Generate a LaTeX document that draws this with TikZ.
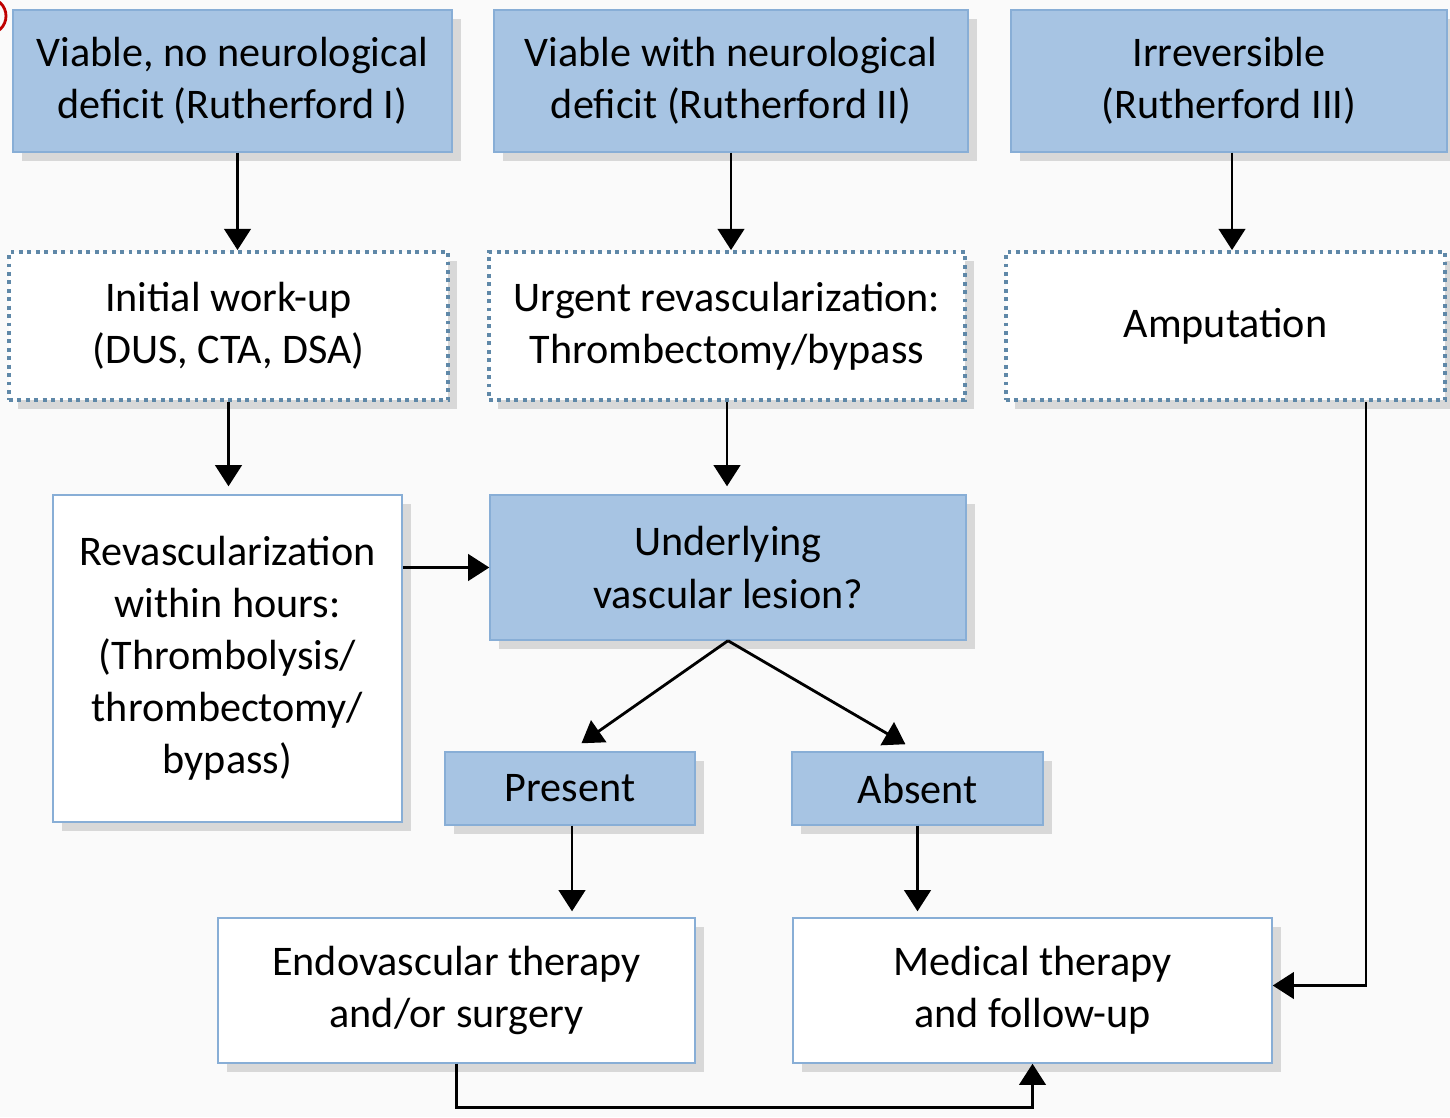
\documentclass[tikz,border=0pt]{standalone}
\usepackage{fontspec}
\setmainfont{Carlito}
\usetikzlibrary{arrows.meta,shadows}
\definecolor{boxblue}{HTML}{A7C4E3}
\definecolor{rimblue}{HTML}{88AED6}
\definecolor{dotblue}{HTML}{5F88A8}
\tikzset{
  shade/.style={drop shadow={shadow xshift=2.5pt,shadow yshift=-2.5pt,opacity=0.35,fill=gray!80}},
  bluebox/.style={rectangle,fill=boxblue,draw=rimblue,thin,shade,align=center,inner sep=2pt,
    font=\fontsize{12}{14.8}\selectfont},
  dotbox/.style={rectangle,fill=white,draw=dotblue,dash pattern=on 1.1pt off 1.3pt,line width=1.1pt,shade,
    align=center,inner sep=2pt,font=\fontsize{12}{14.8}\selectfont},
  whitebox/.style={rectangle,fill=white,draw=rimblue,thin,shade,align=center,inner sep=2pt,
    font=\fontsize{12}{14.8}\selectfont},
  arr/.style={-{Triangle[width=7.5pt,length=6pt]},black,line width=0.8pt}
}
\begin{document}
\begin{tikzpicture}
\useasboundingbox (0,0) rectangle (14.5,-11.17);
\fill[gray!4] (0,0) rectangle (14.5,-11.17);
\draw[red!75!black,thick] (-0.12,-0.16) circle (0.18);
\node[bluebox,minimum width=4.39cm,minimum height=1.42cm] (R1) at (2.325,-0.81) {Viable, no neurological\\deficit (Rutherford I)};
\node[bluebox,minimum width=4.74cm,minimum height=1.42cm] (R2) at (7.31,-0.81) {Viable with neurological\\deficit (Rutherford II)};
\node[bluebox,minimum width=4.36cm,minimum height=1.42cm] (R3) at (12.29,-0.81) {Irreversible\\(Rutherford III)};
\node[dotbox,minimum width=4.39cm,minimum height=1.48cm] (D1) at (2.285,-3.26) {Initial work-up\\(DUS, CTA, DSA)};
\node[dotbox,minimum width=4.76cm,minimum height=1.48cm] (D2) at (7.27,-3.26) {Urgent revascularization:\\Thrombectomy/bypass};
\node[dotbox,minimum width=4.39cm,minimum height=1.48cm] (D3) at (12.255,-3.26) {Amputation};
\node[whitebox,minimum width=3.49cm,minimum height=3.27cm] (Rev) at (2.275,-6.585) {Revascularization\\within hours:\\(Thrombolysis/\\thrombectomy/\\bypass)};
\node[bluebox,minimum width=4.76cm,minimum height=1.45cm] (Und) at (7.28,-5.675) {Underlying\\vascular lesion?};
\node[bluebox,minimum width=2.50cm,minimum height=0.73cm] (Pres) at (5.70,-7.885) {Present};
\node[bluebox,minimum width=2.51cm,minimum height=0.73cm] (Abs) at (9.175,-7.885) {Absent};
\node[whitebox,minimum width=4.77cm,minimum height=1.45cm] (Endo) at (4.565,-9.905) {Endovascular therapy\\and/or surgery};
\node[whitebox,minimum width=4.79cm,minimum height=1.45cm] (Med) at (10.325,-9.905) {Medical therapy\\and follow-up};
\draw[arr] ([xshift=0.05cm]R1.south) -- ([xshift=0.05cm]R1.south |- D1.north);
\draw[arr] (R2.south) -- (R2.south |- D2.north);
\draw[arr] ([xshift=0.03cm]R3.south) -- ([xshift=0.03cm]R3.south |- D3.north);
\draw[arr,shorten >=0.08cm] (D1.south) -- (D1.south |- Rev.north);
\draw[arr,shorten >=0.08cm] (D2.south) -- (D2.south |- Und.north);
\draw[arr] (Rev.east |- Und.west) -- (Und.west);
\draw[arr,shorten >=0.14cm] (Und.south) -- (Pres.north);
\draw[arr,shorten >=0.14cm] (Und.south) -- (Abs.north);
\draw[arr,shorten >=0.06cm] ([xshift=0.02cm]Pres.south) -- ([xshift=0.02cm]Pres.south |- Endo.north);
\draw[arr,shorten >=0.06cm] (Abs.south) -- (Abs.south |- Med.north);
\draw[arr] ([xshift=1.405cm]D3.south) |- ([yshift=0.05cm]Med.east);
\draw[arr] (Endo.south) -- ++(0,-0.44) -| (Med.south);
\end{tikzpicture}
\end{document}
